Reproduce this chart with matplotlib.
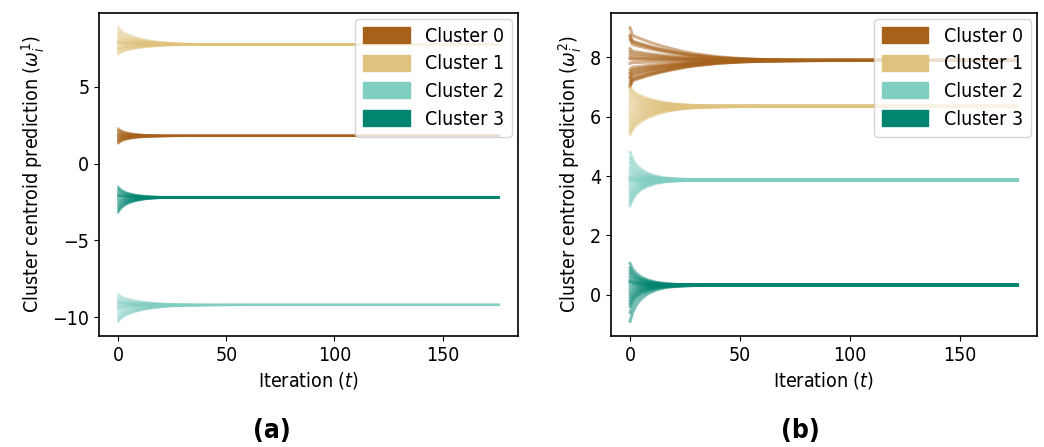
import numpy as np
import matplotlib
matplotlib.use("Agg")
import matplotlib.pyplot as plt
from matplotlib.patches import Patch

plt.rcParams['font.family'] = ['DejaVu Sans']
plt.rcParams['font.stretch'] = 'condensed'
plt.rcParams['font.size'] = 14
plt.rcParams['mathtext.fontset'] = 'dejavusans'

# colours of the four clusters (BrBG)
cluster_names = ['Cluster 0', 'Cluster 1', 'Cluster 2', 'Cluster 3']
cluster_colors = ['#a6611a', '#dfc27d', '#80cdc1', '#018571']

# iterations at which the trajectories are sampled
iters = [0, 1, 2, 3, 5, 8, 12, 16, 20, 25, 30, 40, 50, 60, 70, 80, 100, 176]

# share of the starting gap still left at each sampled iteration
profile_fast = [1, .78, .64, .53, .38, .24, .13, .07, .04, .02, .01, .003, 0, 0, 0, 0, 0, 0]
profile_mid = [1, .84, .73, .65, .53, .4, .28, .19, .13, .075, .045, .015, .005, 0, 0, 0, 0, 0]
profile_slow = [1, .78, .74, .71, .66, .58, .49, .41, .34, .26, .2, .11, .06, .03, .015, .007, 0, 0]

# panel (a): omega^1, converged value and starting values per cluster
a_final = [1.8, 7.75, -9.2, -2.2]
a_start = [
    [2.3, 2.2, 2.15, 2.1, 2.0, 1.95, 1.9, 1.85, 1.8, 1.75, 1.7, 1.65, 1.6, 1.55, 1.5, 1.45, 1.4, 1.35, 1.3],
    [8.9, 8.7, 8.55, 8.4, 8.3, 8.2, 8.1, 8.0, 7.95, 7.9, 7.85, 7.8, 7.7, 7.6, 7.5, 7.45, 7.4, 7.3, 7.2, 7.1],
    [-8.5, -8.65, -8.8, -8.9, -9.0, -9.05, -9.1, -9.2, -9.3, -9.35, -9.45, -9.55, -9.7, -9.85, -9.95, -10.1, -10.2, -10.3],
    [-1.5, -1.6, -1.7, -1.8, -1.9, -2.0, -2.05, -2.1, -2.2, -2.3, -2.4, -2.5, -2.6, -2.7, -2.8, -2.9, -3.0, -3.1, -3.2],
]
a_profile = ['fast', 'mid', 'mid', 'fast']

# panel (b): omega^2
b_final = [7.9, 6.35, 3.87, 0.32]
b_start = [
    [9.0, 8.75, 8.7, 8.6, 8.3, 8.2, 8.1, 8.0, 7.95, 7.8, 7.6, 7.5, 7.45, 7.35, 7.3, 7.2, 7.1, 7.05, 7.0],
    [7.0, 6.9, 6.8, 6.7, 6.6, 6.5, 6.4, 6.3, 6.2, 6.1, 6.0, 5.9, 5.8, 5.7, 5.6, 5.5, 5.4],
    [4.8, 4.6, 4.45, 4.3, 4.2, 4.1, 4.0, 3.95, 3.9, 3.85, 3.8, 3.7, 3.6, 3.5, 3.4, 3.3, 3.2, 3.1, 3.0],
    [1.05, 0.9, 0.8, 0.7, 0.6, 0.5, 0.45, 0.4, 0.3, 0.2, 0.1, 0.0, -0.1, -0.2, -0.3, -0.4, -0.6, -0.9],
]
b_profile = ['slow', 'mid', 'fast', 'fast']

profiles = {'fast': profile_fast, 'mid': profile_mid, 'slow': profile_slow}

fig = plt.figure(figsize=(10.44, 4.47), dpi=100)
ax_a = fig.add_axes([0.095, 0.248, 0.401, 0.723])
ax_b = fig.add_axes([0.585, 0.248, 0.408, 0.723])


def draw_panel(ax, finals, starts, prof_names, lw, alpha, ylabel):
    t = np.array(iters)
    for k in range(4):
        prof = np.array(profiles[prof_names[k]])
        for s in starts[k]:
            y = finals[k] + (s - finals[k]) * prof
            ax.plot(t, y, color=cluster_colors[k], alpha=alpha, lw=lw)
    ax.set_xticks([0, 50, 100, 150])
    ax.set_xlabel('Iteration ($t$)')
    ax.set_ylabel(ylabel)
    handles = [Patch(facecolor=c, edgecolor=c, label=n)
               for c, n in zip(cluster_colors, cluster_names)]
    ax.legend(handles=handles, loc='upper right', handlelength=2.4,
              handleheight=0.9, borderaxespad=0.3, labelspacing=0.45)
    for sp in ax.spines.values():
        sp.set_linewidth(1.2)


draw_panel(ax_a, a_final, a_start, a_profile, 1.5, 0.45,
           'Cluster centroid prediction ($\\omega_i^1$)')
draw_panel(ax_b, b_final, b_start, b_profile, 2.2, 0.5,
           'Cluster centroid prediction ($\\omega_i^2$)')
ax_a.set_yticks([-10, -5, 0, 5])
ax_b.set_yticks([0, 2, 4, 6, 8])
ax_a.set_ylim(-11.23, 9.8)
ax_b.set_ylim(-1.4, 9.5)

fig.text(0.26, 0.02, '(a)', fontsize=19, fontweight='bold',
         family='Liberation Sans Narrow', ha='center')
fig.text(0.767, 0.02, '(b)', fontsize=19, fontweight='bold',
         family='Liberation Sans Narrow', ha='center')

fig.savefig('out.png', dpi=100)
